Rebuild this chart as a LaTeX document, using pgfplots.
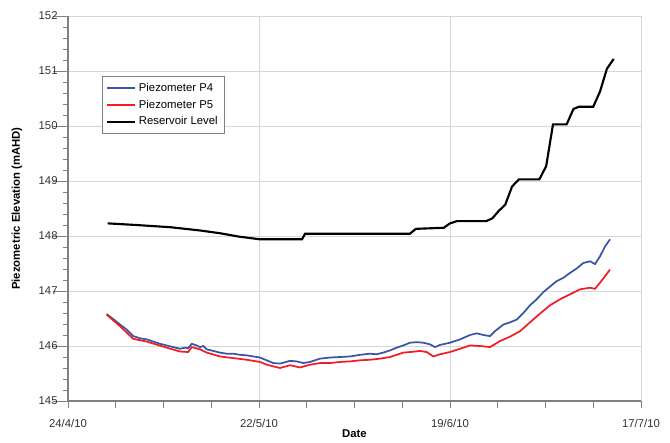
\documentclass[border=0pt]{standalone}
\usepackage{pgfplots}
\pgfplotsset{compat=1.18}
\usepackage{fontspec}
\setmainfont{Liberation Sans}
\definecolor{pfour}{HTML}{3A55A4}
\definecolor{pfive}{HTML}{F01E24}
\definecolor{axgray}{HTML}{808080}
\definecolor{gridgray}{HTML}{D6D6D6}
\begin{document}
\begin{tikzpicture}
\begin{axis}[
  scale only axis, width=429.75pt, height=288.75pt,
  xmin=0, xmax=84, ymin=145, ymax=152,
  axis x line*=bottom, axis y line*=left,
  axis line style={axgray, line width=0.8pt, -},
  tick align=outside,
  xtick={0,28,56,84},
  xticklabels={24/4/10,22/5/10,19/6/10,17/7/10},
  minor xtick={7,14,21,35,42,49,63,70,77},
  ytick={145,146,...,152},
  minor y tick num=4,
  xtick style={/pgfplots/major tick length=5.25pt, /pgfplots/minor tick length=5.25pt},
  ytick style={/pgfplots/major tick length=11.25pt, /pgfplots/minor tick length=3.75pt},
  tick style={axgray, line width=0.7pt},
  grid=major, major grid style={gridgray, line width=0.6pt},
  tick label style={font=\fontsize{8.5}{10}\selectfont, text=black!80},
  xticklabel style={yshift=-6pt},
  /pgf/number format/assume math mode=true,
  xlabel={Date}, ylabel={Piezometric Elevation (mAHD)},
  label style={font=\fontsize{8.5}{10}\selectfont\bfseries},
  xlabel style={at={(axis description cs:0.5,0)}, anchor=center, yshift=-24.75pt},
  ylabel style={at={(axis description cs:0,0.5)}, anchor=center, yshift=38.25pt},
  legend style={at={(rel axis cs:0.059,0.844)}, anchor=north west, draw=axgray, fill=white,
    font=\fontsize{8.5}{10}\selectfont, row sep=1pt, inner xsep=3pt, inner ysep=3pt},
  legend cell align=left,
  legend image code/.code={\draw[#1] (0pt,0pt) -- (21pt,0pt);},
]
\coordinate (sw) at (rel axis cs:0,0);
\addplot[pfour, line width=1.3pt] coordinates {
(5.67,146.58)(6.64,146.49)(7.62,146.39)(8.61,146.30)(9.57,146.18)(10.56,146.14)(11.54,146.12)(12.51,146.08)(13.49,146.04)(14.47,146.01)(15.44,145.98)(16.42,145.95)(17.15,145.97)(17.6,145.96)(18.14,146.04)(18.87,146.01)(19.35,145.98)(19.84,146.00)(20.33,145.94)(21.30,145.91)(22.28,145.88)(23.27,145.86)(24.23,145.86)(25.22,145.84)(26.20,145.83)(27.17,145.81)(28.15,145.79)(29.13,145.74)(30.10,145.69)(31.08,145.68)(32.55,145.73)(33.53,145.72)(34.50,145.69)(35.48,145.71)(36.94,145.77)(38.41,145.79)(39.88,145.80)(41.34,145.81)(42.81,145.84)(44.27,145.86)(45.26,145.85)(46.23,145.88)(47.21,145.92)(48.19,145.97)(49.16,146.01)(50.14,146.06)(51.12,146.07)(52.09,146.06)(53.07,146.03)(53.80,145.98)(54.54,146.02)(56.00,146.06)(57.47,146.12)(58.94,146.20)(59.92,146.23)(60.89,146.20)(61.87,146.18)(62.60,146.27)(63.82,146.39)(64.80,146.43)(65.78,146.48)(66.75,146.60)(67.73,146.74)(68.71,146.85)(69.68,146.98)(70.66,147.08)(71.65,147.18)(72.62,147.24)(73.60,147.33)(74.58,147.41)(75.55,147.51)(76.53,147.54)(77.26,147.49)(77.99,147.63)(78.73,147.81)(79.46,147.94)
};
\addlegendentry{Piezometer P4}
\addplot[pfive, line width=1.3pt] coordinates {
(5.67,146.57)(7.62,146.36)(9.57,146.13)(11.54,146.08)(14.47,145.97)(16.42,145.90)(17.6,145.89)(18.14,145.98)(19.35,145.94)(20.33,145.88)(22.28,145.81)(24.23,145.78)(26.20,145.75)(28.15,145.71)(29.13,145.66)(30.10,145.63)(31.08,145.60)(32.55,145.65)(34.0,145.61)(35.48,145.66)(36.94,145.69)(38.41,145.69)(39.88,145.71)(41.34,145.72)(42.81,145.74)(44.27,145.75)(45.73,145.77)(47.21,145.80)(48.19,145.84)(49.16,145.88)(50.14,145.89)(51.61,145.91)(52.59,145.89)(53.56,145.81)(54.54,145.85)(56.00,145.89)(57.47,145.95)(58.94,146.01)(60.40,146.00)(61.87,145.98)(63.33,146.09)(64.80,146.17)(66.27,146.27)(67.73,146.43)(69.20,146.59)(70.66,146.74)(72.13,146.85)(73.60,146.94)(75.06,147.03)(76.53,147.06)(77.26,147.04)(77.99,147.15)(78.73,147.27)(79.46,147.39)
};
\addlegendentry{Piezometer P5}
\addplot[black, line width=1.6pt] coordinates {
(5.8,148.23)(10,148.20)(15,148.16)(19.4,148.10)(22.3,148.05)(25,147.99)(28.15,147.94)(34.3,147.94)(34.75,148.04)(50.1,148.04)(51.0,148.13)(55.1,148.15)(56.0,148.23)(57.0,148.27)(61.3,148.27)(62.2,148.32)(63.1,148.45)(64.1,148.57)(65.1,148.90)(66.1,149.03)(69.1,149.03)(70.1,149.27)(71.1,150.03)(73.1,150.03)(74.1,150.31)(74.9,150.35)(77.0,150.35)(78.0,150.63)(79.0,151.04)(80.0,151.22)
};
\addlegendentry{Reservoir Level}
\end{axis}
\path[use as bounding box] (sw) ++(-51pt,-27.75pt) rectangle ++(502.5pt,328.5pt);
\end{tikzpicture}
\end{document}
